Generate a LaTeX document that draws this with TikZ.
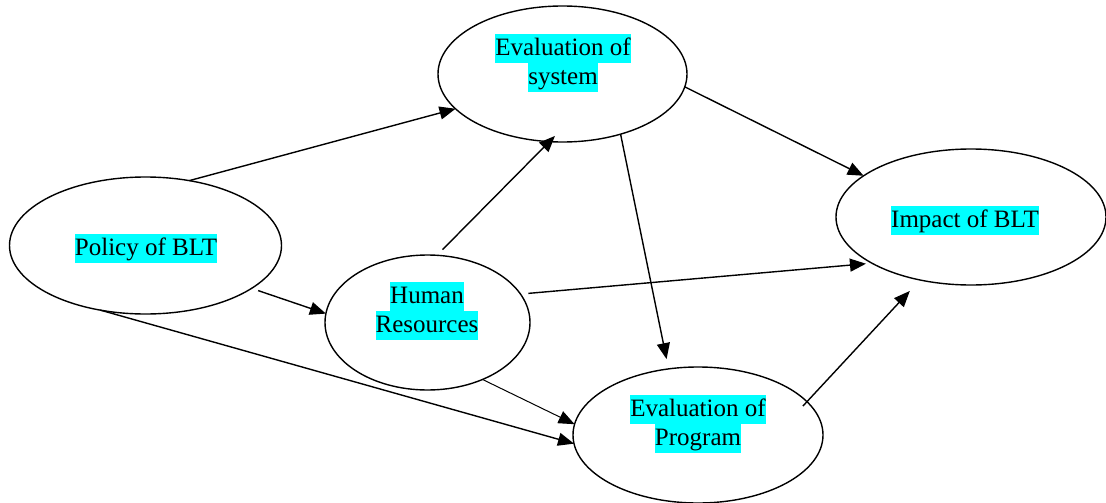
\documentclass[tikz,border=0pt]{standalone}
\usepackage{fontspec}
\setmainfont{Liberation Serif}
\usetikzlibrary{shapes.geometric,arrows.meta}
\definecolor{hlcyan}{RGB}{0,255,255}
\newcommand{\hlt}[1]{{\setlength{\fboxsep}{0pt}\colorbox{hlcyan}{\rule[-7.5pt]{0pt}{29pt}#1}}}
\begin{document}
\begin{tikzpicture}[x=1pt,y=-1pt,
  ell/.style={draw,ellipse,line width=1.4pt,inner sep=0pt,outer sep=0pt},
  lbl/.style={inner sep=0pt,outer sep=0pt,align=center,font=\fontsize{25}{29}\selectfont},
  conn/.style={line width=1.4pt,-{Triangle[length=16pt,width=13pt]}},
  thinconn/.style={line width=1pt,-{Triangle[length=16pt,width=13pt]}}]
\useasboundingbox (0,0) rectangle (1106,503);
\begin{scope}
\clip (0,0) rectangle (1106,503);
\node[ell,minimum width=272pt,minimum height=137pt] (pol) at (145.5,245.5) {};
\node[ell,minimum width=249pt,minimum height=136pt] (sys) at (562.5,74) {};
\node[ell,minimum width=270pt,minimum height=136pt] (imp) at (971,217) {};
\node[ell,minimum width=205pt,minimum height=135pt] (hr) at (427.5,322.5) {};
\node[ell,minimum width=250pt,minimum height=136pt] (prg) at (698,435) {};
\end{scope}
\node[lbl] (tpol) at (146,248.5) {\hlt{Policy of BLT}};
\node[lbl] (tsys) at (563,63) {\hlt{Evaluation of}\\\hlt{system}};
\node[lbl] (timp) at (965,220.5) {\hlt{Impact of BLT}};
\node[lbl] (thr) at (427,311) {\hlt{Human}\\\hlt{Resources}};
\node[lbl] (tprg) at (698,423.5) {\hlt{Evaluation of}\\\hlt{Program}};
% connectors
\draw[conn] (pol.56.6) -- (sys.198.35);
\draw[conn,shorten <=7pt] (pol.-22) -- (hr.175.3);
\draw[conn] (pol.235.4) -- (prg.184.6);
\draw[thinconn] (hr.314) -- (prg.175.9);
\draw[conn,shorten <=8pt,shorten >=-8pt] (hr.82) -- (sys.259);
\draw[conn] (sys.-6.4) -- (imp.159.6);
\draw[conn,shorten >=10pt] (sys.-46.2) -- (prg.114.4);
\draw[conn,shorten <=8pt,shorten >=6pt] (hr.17.4) -- (imp.205.7);
\draw[conn,shorten <=-6pt,shorten >=15pt] (prg.17.4) -- (imp.231.8);
\end{tikzpicture}
\end{document}
